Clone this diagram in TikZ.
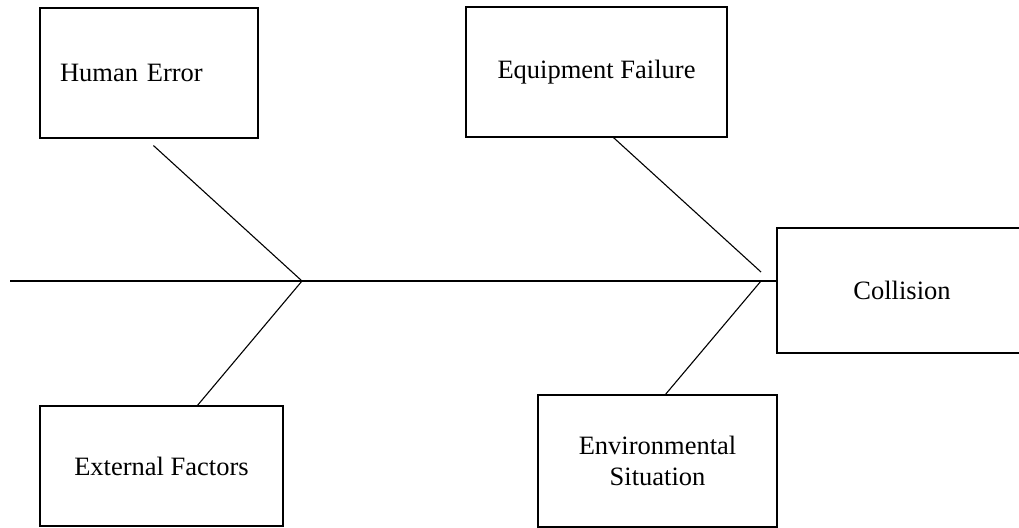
\documentclass[tikz,border=0pt]{standalone}
\usepackage{fontspec}
\setmainfont{Liberation Serif}

\begin{document}
\begin{tikzpicture}[x=1pt, y=-1pt, line width=1.1pt,
  causebox/.style={draw=black, rectangle, inner sep=0pt, align=center,
    font=\fontsize{26.5}{31}\selectfont}]

\useasboundingbox (0,0) rectangle (1019,527);
\clip (0,0) rectangle (1019,527);

\node[causebox, minimum width=218pt, minimum height=130pt, text width=178pt, align=left] (human) at (149,73) {Human Error};
\node[causebox, minimum width=261pt, minimum height=130pt] (equip) at (596.5,72) {Equipment Failure};
\node[causebox, minimum width=250pt, minimum height=125pt] (collision) at (902,290.5) {Collision};
\node[causebox, minimum width=243pt, minimum height=120pt] (external) at (161.5,466) {External Factors};
\node[causebox, minimum width=239pt, minimum height=132pt] (environ) at (657.5,461) {Environmental\\Situation};

% spine
\coordinate (tail) at (10,281);
\coordinate (j1) at (302,281);
\coordinate (j2) at (761,281);
\draw (tail) -- (collision.west |- tail);

% bones
\draw ([xshift=114pt, yshift=-7pt]human.south west) -- (j1);
\draw (j1) -- ([xshift=158pt]external.north west);
\draw ([xshift=148pt]equip.south west) -- ([yshift=9pt]j2);
\draw (j2) -- ([xshift=128pt]environ.north west);
\end{tikzpicture}
\end{document}
